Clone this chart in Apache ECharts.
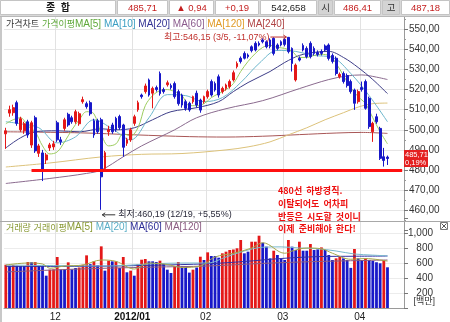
<!DOCTYPE html>
<html><head><meta charset="utf-8">
<script src="https://cdn.jsdelivr.net/npm/echarts@6/dist/echarts.min.js"></script>
<style>html,body{margin:0;padding:0;background:#fff}#c{width:450px;height:322px}</style>
</head><body><div id="c"></div>
<script>
// ---------- data ----------
const dates = ['11/11','11/14','11/15','11/16','11/17','11/18','11/21','11/22','11/23','11/24','11/25','11/28','11/29','11/30',
'12/01','12/02','12/05','12/06','12/07','12/08','12/09','12/12','12/13','12/14','12/15','12/16','12/19','12/20','12/21','12/22','12/23','12/26','12/27','12/28','12/29',
'01/02','01/03','01/04','01/05','01/06','01/09','01/10','01/11','01/12','01/13','01/16','01/17','01/18','01/19','01/20','01/25','01/26','01/27','01/30','01/31',
'02/01','02/02','02/03','02/06','02/07','02/08','02/09','02/10','02/13','02/14','02/15','02/16','02/17','02/20','02/21','02/22','02/23','02/24','02/27','02/28','02/29',
'03/02','03/05','03/06','03/07','03/08','03/09','03/12','03/13','03/14','03/15','03/16','03/19','03/20','03/21','03/22','03/23','03/26','03/27','03/28','03/29','03/30',
'04/02','04/03','04/04','04/05','04/06','04/09','04/10','04/12'];
const padDates = ['04/13','04/16','04/17','04/18'];
const monthLabels = {'12/01':'12','01/02':'2012/01','02/01':'02','03/02':'03','04/02':'04'};
// [open, close, low, high]
const ohlc = [
[498,499.5,490.5,501],[508.3,510,506.5,512],[508.5,511,507,512.5],[513.5,503.2,502,514.5],[500,505.5,499,506.5],
[499.5,503,498,504],[504,497.4,496,505],[492.4,503.5,491,504.5],[506,489.5,488.5,507],[488.3,492,486.5,493],
[488.5,479.5,474.5,490],[485,487.5,483,488.5],[491,492.5,489.5,493.5],[491.5,493,490,494.5],[503.5,495,494,504.5],
[495,494,492.5,496.5],[500.7,505,499.5,506],[507.7,502.4,501.5,508.5],[506,504,503,507],[504,509,503,510],
[503,508,502,509],[514,515,513,516.5],[513,511.5,510.5,514],[513.5,508,507,514.5],[504.5,497.4,496,505.5],
[504.5,499,498,505.5],[505,476.6,460.19,506],[480.8,488.6,479,489.5],[499,500,497,502],[502.4,499,498,503.5],
[505.7,500,499,506.5],[506.6,501,500,507.5],[502.4,491.3,486.6,503],[493.3,495,492,496],[495,500,494,501],
[503.2,506.5,502,507.5],[510,513.5,509,514.5],[517.3,516.5,515.5,518],[519,521.8,518,523],[524.8,517.3,516.5,525.5],
[518.2,520.6,510.7,521.5],[521,520,519,522],[528,518,517,529],[520,519,518,521],[522.4,523.4,521.5,524.5],
[522,521,520,523],[523,516.5,515.5,524],[519,513,512,520],[517.3,512.3,511,518],[514,510.7,509.5,515],
[513.2,509.9,509,514],[514,516.5,513,517],[518.2,512.3,511,519.5],[514.8,509.8,508.5,515.5],[514,516.5,513,517],
[516.5,519,515.5,520],[524,517.3,516.5,525],[523,519.8,519,524],[526.4,517.3,516,527.5],[519,520.6,518,521.5],
[520.6,522.3,519.5,523],[521.5,524,520.5,525],[524.8,528.4,524,529.5],[531.4,533,530.5,534],[535.6,534,533,536.5],
[538,535.6,535,539],[537.2,536.4,535.5,538],[541.3,539.4,538.5,542],[543,539.7,539,544],[543,542.2,541.5,544],
[544.7,543.8,543,545.5],[543.8,541.3,540.5,544.5],[544.7,541.4,540.5,545.5],[545.5,538,537,546],[542.2,540.5,539.5,543],
[543.8,542.2,541.5,544.5],[545,542.5,541.5,545.8],[546,538.9,538,546.15],[540.5,533,529,541],[524.8,532.2,524,533],
[535.6,534.7,534,536.5],[542,539.7,539,543],[540.5,536.4,535.5,541.5],[543,536.4,535.5,544],[540.5,538,537,541.5],
[538.5,537.5,536.5,539.5],[539,538,537,540],[541.7,539.7,539,542.5],[542.2,535.5,534.5,543],[537,534,533,538],
[535.6,528,527,536.5],[526.4,527.6,525.5,528.5],[528,524,523,529],[527,522,521,528],[524,519,518,525],
[519.8,513.2,509.9,520.5],[514,519,513,520],[521,520,519,524],[524,510.7,510,525],[515.7,501.6,500.5,516.5],
[499,503.2,494,504],[506.5,504,503,508],[500.7,485.8,485,501.5],[486.6,484.77,481.7,491],[486.41,485.71,482.5,487.18]];
const volume = [577,564,572,564,560,560,613,610,612,564,
560,431,511,515,680,511,511,609,515,533,
540,577,702,585,622,569,822,498,631,622,
622,533,680,476,498,431,587,644,653,622,
622,613,631,587,511,467,556,613,556,556,
472,511,540,684,640,742,693,693,671,729,
751,773,780,796,907,729,751,884,884,964,
871,818,662,764,707,662,640,907,818,773,
884,764,764,853,773,782,808,773,707,640,
662,684,662,640,535,787,662,640,662,640,
627,610,596,640,542.658];
const volUp = [1,0,1,0,0,0,1,0,1,0, 0,0,1,1,1,0,0,1,0,0, 1,1,1,0,1,0,1,0,1,0, 1,0,1,0,1,0,1,1,1,0,
0,0,1,0,0,0,1,1,0,0, 0,1,0,1,0,1,0,0,0,1, 1,1,1,1,1,0,0,1,1,1, 0,0,0,1,0,0,0,1,0,0,
1,0,0,1,0,0,1,0,0,0, 1,1,0,0,0,1,0,0,1,0, 0,0,0,1,0];
// moving averages read at selected bars: [barIndex, value]
const ma5 = [[0,503],[2,505],[4,506],[6,502],[8,499],[10,492],[12,488],[14,489],[16,494],[18,500],[20,505],[22,509],[24,508],[26,498],[28,492],[30,493],[32,498],[34,497],[36,501],[38,512],[40,517],[42,519.5],[44,520],[46,519],[48,517],[50,512],[52,512],[54,513],[56,516],[58,518],[60,520],[62,523],[64,529],[66,534],[68,538],[70,541],[72,542],[74,541],[76,540.5],[78,539],[80,536],[82,536],[84,537],[86,537.5],[88,537],[90,533],[92,527],[94,521],[96,516.5],[98,513],[100,506],[102,499],[104,493]];
const ma10 = [[0,504],[4,503],[9,501],[14,493.5],[19,496.5],[24,505],[29,500.5],[34,495],[39,506],[44,517.5],[49,517],[54,514],[59,516],[64,523.5],[69,533],[74,539.5],[79,539],[84,537],[89,536],[94,528],[99,517],[104,504]];
const ma20 = [[0,491],[4,496],[8,499],[14,499.5],[20,499],[26,500.5],[30,500],[35,501],[40,505],[45,509],[52,511],[58,514],[62,519],[66,523.5],[72,529],[76,533.5],[80,537],[84,538.5],[88,539],[92,536],[96,531],[100,525],[104,518]];
const ma60 = [[0,473.3],[12,475.8],[22,478.3],[26,480],[32,486.6],[37,492],[46,500],[52,506],[60,510.5],[70,514.5],[80,520.5],[88,525],[93,526.8],[97,527.3],[101,526.2],[104,525]];
const ma120 = [[0,481.5],[12,483.5],[26,486.5],[37,487.8],[48,488.2],[60,490],[66,491.5],[72,494],[77,497.5],[82,501],[87,505],[92,508.5],[96,511.3],[100,513],[104,513.3]];
const ma240 = [[0,499],[20,498.5],[35,497.5],[50,496.6],[60,496.4],[70,496.8],[80,497.6],[90,498.4],[97,498.7],[104,498.2]];
const vma5 = [[0,573],[6,600],[10,587],[12,530],[16,560],[21,573],[26,640],[30,622],[35,520],[39,600],[44,580],[48,540],[53,560],[57,680],[62,730],[67,800],[70,870],[76,730],[78,760],[82,800],[86,790],[89,730],[94,650],[98,660],[104,625]];
const vma20 = [[0,573],[14,565],[28,560],[40,590],[50,600],[55,600],[60,680],[65,760],[70,810],[75,815],[80,800],[85,790],[90,760],[95,720],[100,705],[104,695]];
const vma60 = [[0,555],[20,555],[40,570],[55,590],[65,620],[75,660],[85,685],[95,690],[104,693]];
const vma120 = [[0,480],[20,520],[40,545],[55,560],[70,595],[85,620],[104,640]];
const headerTexts = ['종  합','485,71','▲ 0,94','+0,19','542,658','시','486,41','고','487,18'];
const highNote = '최고:546,15 (3/5, -11,07%)';
const lowNote = '최저:460,19 (12/19, +5,55%)';
const commentLines = ['480선  하방경직.','이탈되어도  어차피','반등은  시도할  것이니','이제  준비해야  한다!'];
const lastTag = ['485,71','0,19%'];
const highDate = '03/05', highValue = 546.15, lowDate = '12/19', lowValue = 460.19, lastClose = 485.71;
const supportLevel = 480, supportFrom = '11/22';

// ---------- chart ----------
const FONT = '"Liberation Sans","Noto Sans CJK KR",sans-serif';
const KFONT = '"Noto Sans CJK KR",sans-serif';
const cats = dates.concat(padDates);
const RED = '#e41818', BLUE = '#1818c8';
const chart = echarts.init(document.getElementById('c'), null, {width:450, height:322});
const isMonth = (i, v) => monthLabels[v] !== undefined;
function ma(pts, color, xi, yi){
  return {type:'line', xAxisIndex:xi, yAxisIndex:yi, data:pts, symbol:'none', smooth:0.35, silent:true,
    lineStyle:{color:color, width:1}, z:3};
}
const option = {
  animation:false,
  textStyle:{fontFamily:FONT},
  grid:[
    {left:4, right:46, top:9.2, height:221.1},
    {left:4, right:46, top:218, height:90}
  ],
  xAxis:[
    {type:'category', gridIndex:0, data:cats, boundaryGap:true,
      axisLine:{show:false}, axisTick:{show:false}, axisLabel:{show:false},
      splitLine:{show:true, interval:isMonth, lineStyle:{color:'#e2e2e2', width:1}}},
    {type:'category', gridIndex:1, data:cats, boundaryGap:true,
      axisLine:{show:true, lineStyle:{color:'#9a9a9a'}}, axisTick:{show:false},
      axisLabel:{show:true, interval:isMonth, margin:4, fontSize:10, color:'#222', padding:[0,4,0,0],
        formatter:v => monthLabels[v]==='2012/01' ? '{b|2012/01}' : (monthLabels[v]||''),
        rich:{b:{fontWeight:'bold', fontSize:10, color:'#111'}}},
      splitLine:{show:true, interval:isMonth, lineStyle:{color:'#e2e2e2', width:1}}}
  ],
  yAxis:[
    {type:'value', gridIndex:0, position:'right', min:450, max:560, interval:10,
      axisLine:{show:true, lineStyle:{color:'#9a9a9a'}},
      axisTick:{show:true, length:4, lineStyle:{color:'#777'}},
      minorTick:{show:true, splitNumber:2, length:2, lineStyle:{color:'#999'}},
      axisLabel:{margin:5, fontSize:10, color:'#333', align:'left',
        formatter:v => (v===450||v===560) ? '' : v.toFixed(2).replace('.',',')},
      splitLine:{show:true, showMinLine:false, showMaxLine:false, lineStyle:{color:'#e6e6e6'}}},
    {type:'value', gridIndex:1, position:'right', min:0, max:1200, interval:200,
      axisLine:{show:true, lineStyle:{color:'#9a9a9a'}},
      axisTick:{show:true, length:4, lineStyle:{color:'#777'}},
      axisLabel:{margin:29, fontSize:10, color:'#333', align:'right',
        formatter:v => (v===0||v===1200) ? '' : (v>=1000 ? '1,000' : String(v))},
      splitLine:{show:true, showMinLine:false, showMaxLine:false, lineStyle:{color:'#ececec'}}}
  ],
  series:[
    {type:'bar', xAxisIndex:1, yAxisIndex:1, barWidth:2.8, z:2,
      data: volume.map((v,i)=>({value:v, itemStyle:{color: volUp[i] ? RED : BLUE}}))},
    ma(vma120,'#8c5c80',1,1), ma(vma60,'#3232a6',1,1), ma(vma20,'#78b8cc',1,1), ma(vma5,'#a6a84a',1,1),
    ma(ma240,'#a85656',0,0), ma(ma120,'#dcc27a',0,0), ma(ma60,'#8a6a8e',0,0),
    ma(ma20,'#3e3e88',0,0), ma(ma10,'#6cb6cc',0,0), ma(ma5,'#9ccc5e',0,0),
    {type:'candlestick', xAxisIndex:0, yAxisIndex:0, data:ohlc, barWidth:2.3, z:4,
      itemStyle:{color:RED, color0:BLUE, borderColor:RED, borderColor0:BLUE, borderWidth:1},
      markLine:{silent:true, symbol:['none','none'], label:{show:false}, animation:false,
        lineStyle:{color:'#ff1010', width:3, type:'solid'},
        data:[[{coord:[dates.indexOf(supportFrom), supportLevel]},{coord:[cats.length-1, supportLevel]}]]}}
  ]
};
chart.setOption(option);

// ---------- overlays positioned through the axes ----------
const hi = chart.convertToPixel({gridIndex:0}, [dates.indexOf(highDate), highValue]);
const lo = chart.convertToPixel({gridIndex:0}, [dates.indexOf(lowDate), lowValue]);
const lastY = chart.convertToPixel({gridIndex:0}, [dates.length-1, lastClose])[1];
const axisX = 450 - 46;

const g = [];
// header
g.push({type:'rect', shape:{x:0,y:0,width:450,height:16}, style:{fill:'#d9d9d9'}, z:100});
const cellX = [[0,116],[117,51],[169,45],[215,44],[260,57],[318,15],[334,47],[382,18],[401,49]];
const cellFill = ['#fff','#fff','#fff','#fff','#fff','#d4d4d4','#fff','#d4d4d4','#fff'];
const cellColor = ['#1a1a1a','#c41e1e','#c41e1e','#c41e1e','#222','#333','#c41e1e','#333','#c41e1e'];
headerTexts.forEach((t,i)=>{
  const [x,w] = cellX[i];
  g.push({type:'rect', shape:{x:x+0.5,y:0.5,width:w-1,height:14}, style:{fill:cellFill[i], stroke:'#c4c4c4', lineWidth:1}, z:101});
  g.push({type:'text', x:x+w/2, y:8, style:{text:t, font:(i===0?'bold 10px ':'9.5px ')+FONT, fill:cellColor[i], align:'center', verticalAlign:'middle'}, z:102});
});
// frame
g.push({type:'rect', shape:{x:0,y:16,width:2,height:306}, style:{fill:'#c8c8c8'}, z:100});
g.push({type:'line', shape:{x1:0,y1:221.5,x2:450,y2:221.5}, style:{stroke:'#a8a8a8', lineWidth:1}, z:100});
g.push({type:'line', shape:{x1:0,y1:16.5,x2:450,y2:16.5}, style:{stroke:'#b8b8b8', lineWidth:1}, z:100});
// price legend
const K = 9, L = 10;
g.push({type:'text', x:6, y:24, z:100, style:{verticalAlign:'middle', font:'10px '+FONT,
  text:'{a|가격차트} {b|가격이평}{b2|MA[5]} {c|MA[10]} {d|MA[20]} {e|MA[60]} {f|MA[120]} {h|MA[240]}',
  rich:{a:{fill:'#333',fontSize:K,fontFamily:KFONT},b:{fill:'#5fa83a',fontSize:K,fontFamily:KFONT},b2:{fill:'#5fa83a',fontSize:L},
        c:{fill:'#3a9ec2',fontSize:L},d:{fill:'#303092',fontSize:L},
        e:{fill:'#8a5a8c',fontSize:L},f:{fill:'#e09a26',fontSize:L},h:{fill:'#b04444',fontSize:L}}}});
// volume legend
g.push({type:'text', x:6, y:227.5, z:100, style:{verticalAlign:'middle', font:'10px '+FONT,
  text:'{a|거래량} {a|거래이평}{a2|MA[5]} {c|MA[20]} {d|MA[60]} {e|MA[120]}',
  rich:{a:{fill:'#8a9a36',fontSize:K,fontFamily:KFONT},a2:{fill:'#8a9a36',fontSize:L},c:{fill:'#5aaec6',fontSize:L},
        d:{fill:'#2c2c96',fontSize:L},e:{fill:'#8a5a80',fontSize:L}}}});
// close icon
g.push({type:'rect', shape:{x:440.5,y:222.5,width:7,height:7}, style:{fill:'#fff', stroke:'#777'}, z:100});
g.push({type:'polyline', shape:{points:[[441.5,223.5],[446.5,228.5]]}, style:{stroke:'#555'}, z:101});
g.push({type:'polyline', shape:{points:[[446.5,223.5],[441.5,228.5]]}, style:{stroke:'#555'}, z:101});
// unit label
g.push({type:'text', x:435, y:302, z:100, style:{text:'[백만]', font:'9px '+FONT, fill:'#333', align:'right', verticalAlign:'middle'}});
// high note
g.push({type:'text', x:hi[0]-19, y:hi[1], z:100, style:{text:highNote, font:'9px '+FONT, fill:'#c0302c', align:'right', verticalAlign:'middle'}});
g.push({type:'polyline', shape:{points:[[hi[0]-18,hi[1]],[hi[0]-2,hi[1]]]}, style:{stroke:'#c0302c', lineWidth:1}, z:100});
g.push({type:'polyline', shape:{points:[[hi[0]-5,hi[1]-2],[hi[0]-2,hi[1]],[hi[0]-5,hi[1]+2]]}, style:{stroke:'#c0302c', fill:null, lineWidth:1}, z:100});
// low note
g.push({type:'polyline', shape:{points:[[lo[0]+1,lo[1]+5],[lo[0]+14,lo[1]+5]]}, style:{stroke:'#333', lineWidth:1}, z:100});
g.push({type:'polyline', shape:{points:[[lo[0]+4,lo[1]+3],[lo[0]+1,lo[1]+5],[lo[0]+4,lo[1]+7]]}, style:{stroke:'#333', fill:null, lineWidth:1}, z:100});
g.push({type:'text', x:lo[0]+17, y:lo[1]+5, z:100, style:{text:lowNote, font:'9px '+FONT, fill:'#2a2a3a', align:'left', verticalAlign:'middle'}});
// comment
const cy = [190.5, 204, 216.5, 229];
commentLines.forEach((t,i)=>g.push({type:'text', x:278, y:cy[i], z:100,
  style:{text:t, font:'bold 9px '+KFONT, fill:'#ee1010', align:'left', verticalAlign:'middle'}}));
// last price tag
g.push({type:'rect', shape:{x:axisX, y:lastY-8.5, width:24, height:17}, style:{fill:'#e42020'}, z:100});
g.push({type:'text', x:axisX+1, y:lastY-4, z:101, style:{text:lastTag[0], font:'7.5px '+FONT, fill:'#fff', align:'left', verticalAlign:'middle'}});
g.push({type:'text', x:axisX+1, y:lastY+4, z:101, style:{text:lastTag[1], font:'7.5px '+FONT, fill:'#fff', align:'left', verticalAlign:'middle'}});

chart.setOption({graphic:g});
</script></body></html>
